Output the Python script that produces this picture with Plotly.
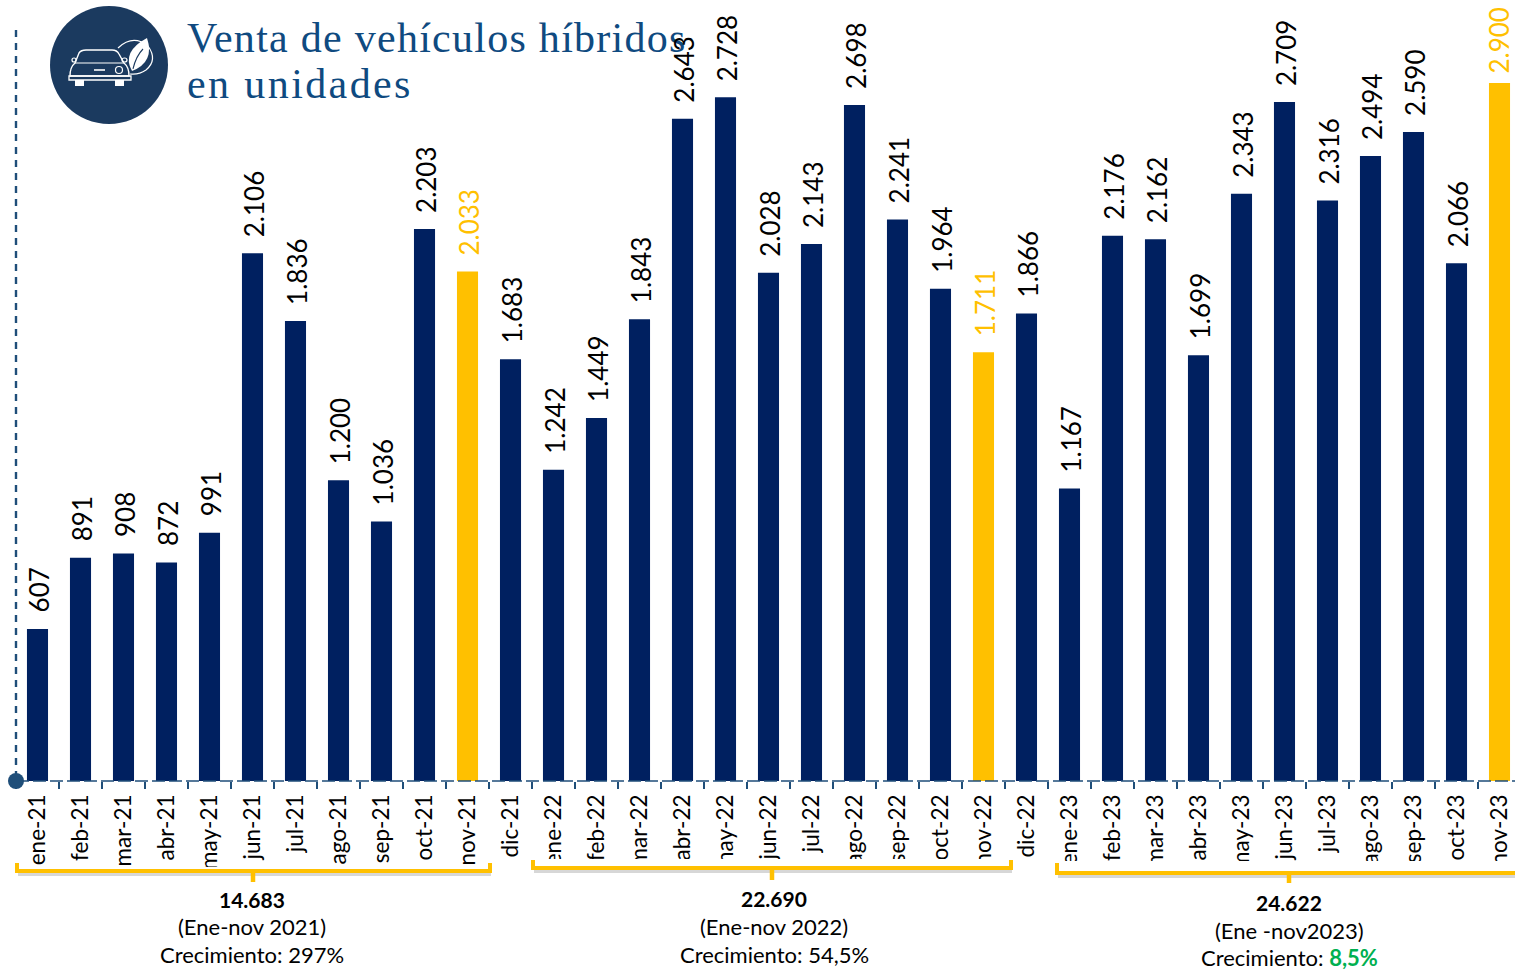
import plotly.graph_objects as go

months = ["ene-21","feb-21","mar-21","abr-21","may-21","jun-21","jul-21","ago-21","sep-21","oct-21","nov-21","dic-21",
          "ene-22","feb-22","mar-22","abr-22","may-22","jun-22","jul-22","ago-22","sep-22","oct-22","nov-22","dic-22",
          "ene-23","feb-23","mar-23","abr-23","may-23","jun-23","jul-23","ago-23","sep-23","oct-23","nov-23"]
# labelled values as printed in the chart
labels = [607,891,908,872,991,2106,1836,1200,1036,2203,2033,1683,
          1242,1449,1843,2643,2728,2028,2143,2698,2241,1964,1711,1866,
          1167,2176,2162,1699,2343,2709,2316,2494,2590,2066,2900]
# drawn heights: equal to the labels, except the final bar, which the source draws shorter than its label
heights = labels[:-1] + [2785]
highlight = ["nov-21", "nov-22", "nov-23"]

W, H = 1515, 970
BASE = 781
NAVY, GOLD, AXIS = "#002060", "#FFC000", "#1F4E79"
FONT = "Lato"
TITLE = "#0F4A80"

def px(x): return x / W
def py(y): return 1 - y / H
def P(x, y): return f"{px(x):.5f},{py(y):.5f}"
def path(*pts):
    return "M " + " L ".join(P(x, y) for x, y in pts)

bar_colors = [GOLD if m in highlight else NAVY for m in months]
texts = [f"{v:,}".replace(",", ".") for v in labels]

fig = go.Figure(go.Bar(
    x=months, y=heights, width=0.49, marker=dict(color=bar_colors, line_width=0), hoverinfo="skip",
))

shapes = []
def line(pts, color, width, dash=None):
    shapes.append(dict(type="path", xref="paper", yref="paper", path=path(*pts), layer="above",
                       line=dict(color=color, width=width, dash=dash)))
def curve(d, color=None, width=1.3, fill=None):
    s = dict(type="path", xref="paper", yref="paper", path=d, layer="above")
    s["line"] = dict(color=color, width=width) if color else dict(width=0)
    if fill: s["fillcolor"] = fill
    shapes.append(s)
def box(kind, x0, x1, y0, y1, fill=None, color=None, width=0):
    s = dict(type=kind, xref="paper", yref="paper", x0=px(x0), x1=px(x1), y0=py(y1), y1=py(y0), layer="above",
             line=dict(color=color, width=width) if color else dict(width=0))
    if fill: s["fillcolor"] = fill
    shapes.append(s)

# masks that crop the long tick labels, as in the source
for x0, x1, y0 in [(10, 496, 867), (526, 1020, 859), (1050, 1515, 861)]:
    box("rect", x0, x1, y0, 900, fill="white")

# dashed axes
line([(16, 30), (16, BASE)], AXIS, 2.4, "7px,6px")
line([(16, BASE), (1515, BASE)], AXIS, 1.5, "13px,4px")
box("circle", 8, 24, 773, 789, fill=AXIS)

# brackets
for x0, x1, xc, y0, y1, y2 in [(17, 490, 253, 863, 871, 882), (533, 1011, 772, 860, 868, 880), (1057, 1520, 1289, 863, 873, 883)]:
    line([(x0 + 1, y1 + 3), (x1 + 1, y1 + 3)], "rgba(110,110,110,0.28)", 4)
    line([(x0, y0), (x0, y1), (x1, y1), (x1, y0)], GOLD, 4)
    line([(xc, y1), (xc, y2)], GOLD, 4.5)

# icon
box("circle", 50, 168, 6, 124, fill="#1B3A5F")
W_ = "white"
curve(f"M {P(118,48)} Q {P(133,34)} {P(148,46)} Q {P(158,60)} {P(146,70)} Q {P(139,75)} {P(130,74)}", W_, 1.2)
curve(f"M {P(132,71)} Q {P(121,52)} {P(147,38)} Q {P(155,62)} {P(132,71)} Z", None, 0, W_)
curve(f"M {P(133,69)} Q {P(136,56)} {P(143,49)}", "#1B3A5F", 1.1)
curve(f"M {P(75,63)} L {P(79,53)} Q {P(81,50)} {P(86,50)} L {P(112,50)} Q {P(117,50)} {P(119,54)} L {P(124,63)} "
      f"Q {P(129,67)} {P(129,76)} L {P(70,76)} Q {P(70,67)} {P(75,63)} Z", W_, 1.4)
line([(75, 63), (124, 63)], W_, 1.2)
curve(f"M {P(69,76)} L {P(131,76)} L {P(131,80)} L {P(69,80)} Z", W_, 1.3)
line([(94, 70), (105, 70)], W_, 1.6)
box("rect", 75, 84, 80, 86, fill=W_)
box("rect", 115, 124, 80, 86, fill=W_)
box("circle", 115.5, 122.5, 66.5, 73.5, color=W_, width=1.2)
box("circle", 72, 76, 58, 62, color=W_, width=1.2)
box("circle", 122, 127, 58, 62, color=W_, width=1.2)

def note(x, y, text, size, color="#000000", family=FONT, align="center", anchor="center"):
    return dict(xref="paper", yref="paper", x=px(x), y=py(y), text=text, showarrow=False, align=align,
                xanchor=anchor, yanchor="middle", font=dict(family=family, size=size, color=color))

spaced = "<span style='letter-spacing:{}px'>{}</span>"
annotations = [
    note(185, 38, spaced.format(1.27, "Venta de vehículos híbridos"), 42, TITLE, "Liberation Serif", "left", "left"),
    note(185, 84, spaced.format(2.4, "en unidades"), 42, TITLE, "Liberation Serif", "left", "left"),
    note(252, 899, "<b>14.683</b>", 21), note(252, 926, "(Ene-nov 2021)", 22), note(252, 954, "Crecimiento: 297%", 22),
    note(774, 898, "<b>22.690</b>", 21), note(774, 926, "(Ene-nov 2022)", 22), note(774, 954, "Crecimiento: 54,5%", 22),
    note(1289, 902, "<b>24.622</b>", 21), note(1289, 930, "(Ene -nov2023)", 22),
    note(1289, 957, "Crecimiento: <b><span style='color:#00B050'>8,5%</span></b>", 22),
]

# value labels, placed on each bar top through the data axes
for m, h, t in zip(months, heights, texts):
    last = m == months[-1]
    annotations.append(dict(
        xref="x", yref="y", x=m, y=h, text=t, showarrow=False, textangle=-90, xanchor="center", yanchor="bottom",
        xshift=0 if last else 1.5, yshift=7 if last else 14,
        font=dict(family=FONT, size=26, color=GOLD if m in highlight else "#000000"),
    ))

slot = 43.0
first = 37.5
fig.update_layout(
    width=W, height=H, margin=dict(l=0, r=0, t=0, b=0, pad=0), paper_bgcolor="white", plot_bgcolor="white",
    showlegend=False, shapes=shapes, annotations=annotations,
    xaxis=dict(type="category", categoryorder="array", categoryarray=months,
               range=[-first / slot, (W - first) / slot], tickson="boundaries", ticks="outside", ticklen=7,
               tickwidth=1.5, tickcolor=AXIS, showline=False, showgrid=False, zeroline=False, tickangle=-90,
               tickfont=dict(family=FONT, size=22.5, color="#000000"), automargin=False, ticklabelstandoff=8),
    yaxis=dict(domain=[1 - BASE / H, 1], range=[0, BASE / 0.2506], visible=False, fixedrange=True),
)
fig.write_html("out.html", config=dict(displayModeBar=False),
               post_script="document.body.style.margin='0';document.documentElement.style.overflow='hidden';")
